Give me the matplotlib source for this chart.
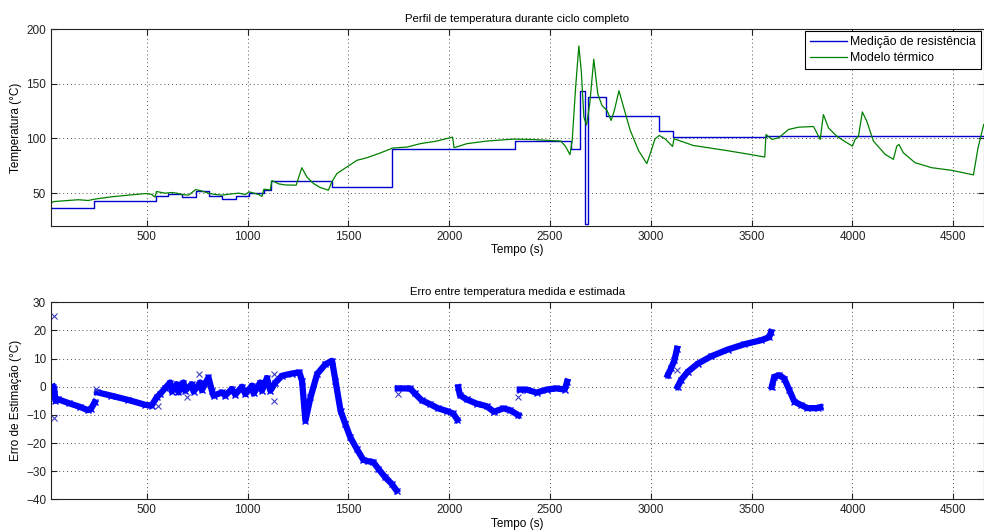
import numpy as np
import matplotlib
matplotlib.use("Agg")
import matplotlib.pyplot as plt

plt.rcParams['font.family'] = ['Liberation Sans', 'DejaVu Sans']

# medição de resistência (degraus)
meas_t = [25, 240, 545, 607, 674, 743, 810, 873, 942, 1005, 1080, 1118, 1418, 1718,
          2325, 2602, 2650, 2674, 2686, 2778, 3042, 3108, 3571, 3851, 4650]
meas_v = [36, 43, 47.6, 48.8, 46.7, 52.4, 47, 44.8, 47, 50.6, 53.3, 61.2, 56, 90,
          97.6, 90.6, 143.6, 22, 137.9, 120.9, 107, 101.2, 102.6, 102, 102]

# modelo térmico
model_t = [25, 30, 44, 160, 210, 240, 326, 426, 500, 525, 541, 548, 591, 624, 649, 674,
           707, 743, 773, 810, 840, 873, 923, 956, 989, 1008, 1055, 1071, 1081, 1113,
           1121, 1154, 1187, 1241, 1269, 1294, 1327, 1360, 1401, 1418, 1443, 1492, 1542,
           1592, 1658, 1719, 1790, 1856, 1938, 2017, 2024, 2087, 2186, 2318, 2405, 2553,
           2577, 2599, 2610, 2627, 2643, 2655, 2668, 2681, 2697, 2717, 2737, 2758, 2783,
           2803, 2819, 2842, 2865, 2898, 2939, 2980, 2997, 3021, 3042, 3070, 3108, 3115,
           3210, 3374, 3489, 3565, 3571, 3601, 3634, 3683, 3733, 3807, 3840, 3856, 3881,
           3922, 3964, 4000, 4013, 4030, 4049, 4071, 4104, 4162, 4203, 4220, 4231, 4252,
           4310, 4392, 4491, 4600, 4623, 4651]
model_v = [39.5, 41.8, 42.4, 44, 43.3, 44.5, 46.7, 48.5, 49.7, 48.8, 46.4, 51.5, 50, 50.6,
           50, 48.8, 48.2, 53.3, 52, 49.7, 48.8, 48.2, 49.4, 50, 48.8, 51.2, 48.8, 47,
           53.6, 53, 61.5, 58.5, 57.5, 57.3, 73.3, 64.8, 58.8, 55.2, 52.7, 60.3, 67.9,
           73.9, 80, 82.4, 86.7, 91.2, 92.1, 95.2, 97.6, 101.2, 91.5, 95.2, 97.6, 99.4,
           99.1, 97.6, 92.7, 85.2, 98.2, 146.7, 184.5, 161.8, 119.4, 112.4, 131.5, 172.4,
           140.6, 130, 125.5, 116.4, 125.5, 143.6, 128.5, 107.3, 89, 77, 86, 99.7, 102.7,
           99.7, 92.7, 99.7, 93.6, 89, 85.5, 83, 103.6, 99.1, 100.6, 108.2, 110.3, 110.9,
           99.1, 121.8, 109.7, 102.1, 97, 93, 99.1, 102.1, 124.2, 115.8, 97.6, 85.5, 80.9,
           93, 94.5, 87, 77.9, 73.3, 70.9, 66.7, 91.5, 112.7]

# erro de estimação (trechos separados por nan)
nan = np.nan
err_t = [36, 41, 47, 58, 116, 170, 207, 222, 242, nan,
         255, 325, 408, 491, 524, 549, 566, 591, 616, 624, 649, 657, 682, 690, 723, 732,
         765, 773, 806, 823, 831, 873, 889, 922, 939, 972, 989, 1022, 1030, 1063, 1071,
         1096, 1113, 1138, 1171, 1220, 1257, 1270, 1287, 1312, 1345, 1386, 1419, 1436,
         1461, 1484, 1509, 1541, 1574, 1599, 1624, 1649, 1682, 1715, 1739, nan,
         1745, 1806, 1830, 1863, 1905, 1946, 1987, 2020, 2040, nan,
         2045, 2053, 2086, 2136, 2185, 2222, 2268, 2301, 2343, nan,
         2350, 2384, 2433, 2483, 2532, 2573, 2585, nan,
         3084, 3100, 3117, 3130, nan,
         3133, 3150, 3183, 3233, 3299, 3381, 3464, 3546, 3587, 3596, nan,
         3600, 3612, 3637, 3662, 3687, 3712, 3745, 3777, 3827, 3840]
err_v = [0, -0.8, -5, -4.4, -5.9, -7.2, -8.3, -8, -5.5, nan,
         -2, -3.2, -4.7, -6.4, -6.7, -3.8, -2.6, -0.5, 1.5, -1.7, 0.9, -2, 1.5, -1.4, 0.9,
         -1.7, 1.5, -1.2, 3.3, -1.4, -3.2, -2, -3.2, -0.8, -2.8, 0, -2.6, 0.4, -2.4, 1.5,
         -1.4, 3.1, -1.4, 1.5, 3.9, 4.7, 5.1, 2.1, -12.1, -3.8, 4.5, 8, 9.2, 2.1, -8.5,
         -13.1, -17.9, -22, -26, -26.5, -26.8, -29.2, -32.1, -34.5, -36.9, nan,
         -0.6, -0.6, -2.4, -4.8, -6.2, -7.7, -8.6, -9.5, -11.7, nan,
         -0.2, -3, -4.5, -6, -6.9, -8.9, -7.7, -8.3, -10.1, nan,
         -1, -1, -2.1, -1, -0.6, -1, 1.8, nan,
         4.1, 6.5, 9.4, 13.5, nan,
         0, 2.4, 5.3, 8.2, 10.8, 13.2, 15.1, 16.5, 17.6, 19.4, nan,
         0, 3.5, 4.1, 2.9, -1.2, -5.3, -6.5, -7.6, -7.6, -7.3]

# pontos isolados
out_t = [41, 41, 250, 556, 700, 760, 1131, 1131, 1745, 2343, 3130]
out_v = [25.2, -11.1, -0.7, -7, -3.7, 4.6, 4.6, -4.9, -2.7, -3.6, 6.1]

xlim = (25, 4650)
fig = plt.figure(figsize=(9.84, 5.31), dpi=100)


def style(ax):
    ax.grid(True, linestyle=(0, (1, 3)), color='#555555', linewidth=0.7)
    ax.tick_params(direction='in', top=True, right=True, labelsize=8.5,
                   length=4, width=0.8, colors='#222222')
    for s in ax.spines.values():
        s.set_color('#222222')
        s.set_linewidth(0.8)
    ax.set_xlim(*xlim)
    ax.set_xticks([500, 1000, 1500, 2000, 2500, 3000, 3500, 4000, 4500])


ax1 = fig.add_axes([51 / 984, 1 - 226 / 531, 932.5 / 984, 197 / 531])
ax1.plot(meas_t, meas_v, drawstyle='steps-post', color='#0000cc', lw=1.0,
         label='Medição de resistência')
ax1.plot(model_t, model_v, color='#008000', lw=0.9, label='Modelo térmico')
style(ax1)
ax1.set_ylim(20, 200)
ax1.set_yticks([50, 100, 150, 200])
ax1.set_title('Perfil de temperatura durante ciclo completo', fontsize=8.2, pad=5)
ax1.set_xlabel('Tempo (s)', fontsize=8.5, labelpad=1)
ax1.set_ylabel('Temperatura (°C)', fontsize=8.5, labelpad=3)
leg = ax1.legend(loc='upper right', fontsize=8.8, fancybox=False, framealpha=1,
                 edgecolor='black', borderaxespad=0.2, handlelength=3.0,
                 borderpad=0.4, labelspacing=0.3, handletextpad=0.3)
leg.get_frame().set_linewidth(0.8)

ax2 = fig.add_axes([51 / 984, 1 - 499.3 / 531, 932.5 / 984, 197 / 531])
ax2.plot(err_t, err_v, color='#0000ff', lw=4.5, marker='x', ms=4.5, mew=1)
ax2.plot(out_t, out_v, linestyle='none', color='#4040c0', marker='x', ms=4, mew=0.8)
style(ax2)
ax2.set_ylim(-40, 30)
ax2.set_yticks(np.arange(-40, 31, 10))
ax2.set_title('Erro entre temperatura medida e estimada', fontsize=8.2, pad=5)
ax2.set_xlabel('Tempo (s)', fontsize=8.5, labelpad=1)
ax2.set_ylabel('Erro de Estimação (°C)', fontsize=8.5, labelpad=3)

fig.savefig('out.png', dpi=100)
